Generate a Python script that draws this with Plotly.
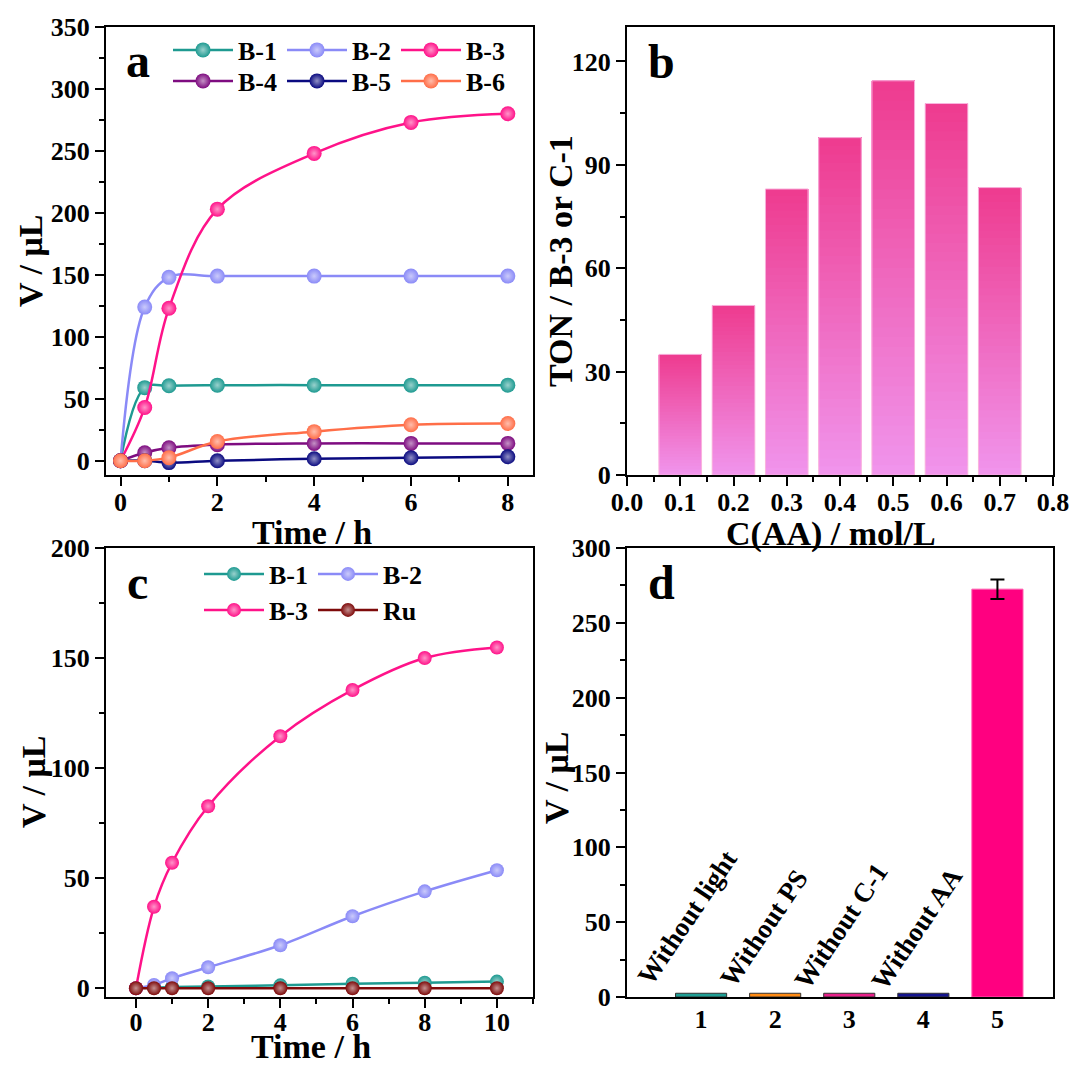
import plotly.graph_objects as go

W, H = 1080, 1073
OFF = 8                      # page body margin of the browser
FW, FH = W - 2 * OFF, H - 2 * OFF
FONT = "Liberation Serif"

# ---------------- data ----------------
# panel a
time_a = [0, 0.5, 1, 2, 4, 6, 8]
a_B1 = [0, 59, 60.5, 61, 61, 61, 61]
a_B2 = [0, 124, 148, 149, 149, 149, 149]
a_B3 = [0, 43, 123, 203, 248, 273, 280]
a_B4 = [0, 6.5, 10.5, 13, 14, 14, 14]
a_B5 = [0, 0, -1.5, 0, 1.6, 2.4, 3.2]
a_B6 = [0, 0, 2.5, 15.5, 23.5, 29, 30]
names_a = ["B-1", "B-2", "B-3", "B-4", "B-5", "B-6"]

# panel b
conc_b = [0.1, 0.2, 0.3, 0.4, 0.5, 0.6, 0.7]
ton_b = [35, 49.2, 83, 97.9, 114.4, 107.8, 83.4]

# panel c
time_c = [0, 0.5, 1, 2, 4, 6, 8, 10]
c_B1 = [0, 0.3, 0.5, 0.8, 1.3, 2.0, 2.5, 3.0]
c_B2 = [0, 1.5, 4.5, 9.5, 19.5, 32.7, 44, 53.6]
c_B3 = [0, 37, 57, 82.7, 114.5, 135.5, 150, 154.8]
c_Ru = [0, 0, 0, 0, 0, 0, 0, 0]
names_c = ["B-1", "B-2", "B-3", "Ru"]

# panel d
cond_d = [1, 2, 3, 4, 5]
vol_d = [2.5, 2.5, 2.5, 2.5, 272.5]
err_d = [6.5]
labels_d = ["Without light", "Without PS", "Without C-1", "Without AA"]

# ---------------- styles ----------------
COL = {"B-1": "#1E9A91", "B-2": "#8A8AF7", "B-3": "#FF1289",
       "B-4": "#7E0C80", "B-5": "#0A0A80", "B-6": "#FF6E48", "Ru": "#7E0A0A"}


def lighten(hexc, f=0.6):
    h = hexc.lstrip("#")
    r, g, b = int(h[0:2], 16), int(h[2:4], 16), int(h[4:6], 16)
    r = int(r + (255 - r) * f); g = int(g + (255 - g) * f); b = int(b + (255 - b) * f)
    return f"rgb({r},{g},{b})"


def px_x(p):
    return (p - OFF) / FW


def px_y(p):
    return 1 - (p - OFF) / FH


TF = dict(family=FONT, size=26, color="black", weight="bold")
TITLEF = dict(family=FONT, size=34, color="black", weight="bold")

fig = go.Figure()

# panel a lines
series_a = [a_B1, a_B2, a_B3, a_B4, a_B5, a_B6]
for i, (nm, ys) in enumerate(zip(names_a, series_a)):
    fig.add_trace(go.Scatter(
        x=time_a, y=ys, name=nm, mode="lines+markers",
        line=dict(color=COL[nm], width=2.5, shape="spline", smoothing=1.0),
        marker=dict(size=15, color=COL[nm], gradient=dict(type="radial", color=lighten(COL[nm], 0.55))),
        xaxis="x", yaxis="y", legend="legend" if i < 3 else "legend2"))

# panel b gradient bars (stacked overlays)
N = 40
top = (238, 58, 142)
bot = (241, 148, 236)
for k in range(N):
    f = k / N
    c = tuple(int(bot[j] + (top[j] - bot[j]) * f) for j in range(3))
    fig.add_trace(go.Bar(
        x=conc_b, y=[v * (1 - f) for v in ton_b], base=[v * f for v in ton_b],
        width=0.08, marker=dict(color=f"rgb{c}", line=dict(width=0)),
        xaxis="x2", yaxis="y2", showlegend=False, hoverinfo="skip"))
fig.add_trace(go.Bar(
    x=conc_b, y=ton_b, width=0.08,
    marker=dict(color="rgba(0,0,0,0)", line=dict(color="#F9B4DE", width=1)),
    xaxis="x2", yaxis="y2", showlegend=False))

# panel c lines
series_c = [c_B1, c_B2, c_B3, c_Ru]
for i, (nm, ys) in enumerate(zip(names_c, series_c)):
    fig.add_trace(go.Scatter(
        x=time_c, y=ys, name=nm, mode="lines+markers",
        line=dict(color=COL[nm], width=2.5, shape="spline", smoothing=1.0),
        marker=dict(size=14, color=COL[nm], gradient=dict(type="radial", color=lighten(COL[nm], 0.55))),
        xaxis="x3", yaxis="y3", legend="legend3" if i < 2 else "legend4"))

# panel d bars
small_cols = ["#1E9E94", "#FF8A12", "#E8208A", "#14148E"]
fig.add_trace(go.Bar(
    x=cond_d[:4], y=vol_d[:4], width=0.69,
    marker=dict(color=small_cols, line=dict(color="#333333", width=1)),
    xaxis="x4", yaxis="y4", showlegend=False))
fig.add_trace(go.Bar(
    x=cond_d[4:], y=vol_d[4:], width=0.69,
    marker=dict(color="#FF0080", line=dict(color="#FF5AAE", width=1)),
    error_y=dict(type="data", array=err_d, color="black", thickness=2, width=7),
    xaxis="x4", yaxis="y4", showlegend=False))


def ax(**kw):
    d = dict(showline=True, linecolor="black", linewidth=2, mirror=True,
             ticks="outside", ticklen=9, tickwidth=2, tickcolor="black",
             tickfont=TF, showgrid=False, zeroline=False, fixedrange=True,
             automargin=False)
    d.update(kw)
    return d


minor = lambda dt: dict(ticks="outside", ticklen=5, tickwidth=2, tickcolor="black", dtick=dt, showgrid=False)

dom_a_x = [px_x(106), px_x(533)]
dom_b_x = [px_x(627), px_x(1053)]
dom_top_y = [px_y(475), px_y(27)]
dom_bot_y = [px_y(997), px_y(548)]

layout = dict(
    template="none",
    width=FW, height=FH, margin=dict(l=0, r=0, t=0, b=0, autoexpand=False),
    paper_bgcolor="white", plot_bgcolor="white", barmode="overlay",
    font=dict(family=FONT, color="black"),
    xaxis=ax(domain=dom_a_x, anchor="y", range=[-0.3, 8.52], tick0=0, dtick=2, minor=minor(1),
             ticklabelstandoff=-6),
    yaxis=ax(domain=dom_top_y, anchor="x", range=[-11.5, 350], tick0=0, dtick=50, minor=minor(25)),
    xaxis2=ax(domain=dom_b_x, anchor="y2", range=[0, 0.8], tick0=0, dtick=0.1, tickformat=".1f",
              minor=minor(0.05), ticklabelstandoff=-6),
    yaxis2=ax(domain=dom_top_y, anchor="x2", range=[0, 130], tick0=0, dtick=30, minor=minor(15)),
    xaxis3=ax(domain=dom_a_x, anchor="y3", range=[-0.83, 11.0], tick0=0, dtick=2, minor=minor(1),
              ticklabelstandoff=-8),
    yaxis3=ax(domain=dom_bot_y, anchor="x3", range=[-4, 200], tick0=0, dtick=50, minor=minor(25)),
    xaxis4=ax(domain=dom_b_x, anchor="y4", range=[0, 5.75], tickvals=cond_d, ticks="",
              ticklabelstandoff=-2),
    yaxis4=ax(domain=dom_bot_y, anchor="x4", range=[0, 300], tick0=0, dtick=50, minor=minor(25)),
)

LF = dict(family=FONT, size=26, color="black", weight="bold")


def leg(xp, yp):
    return dict(orientation="h", x=px_x(xp), y=px_y(yp), xanchor="left", yanchor="middle",
                bgcolor="rgba(0,0,0,0)", font=LF, itemwidth=60, entrywidth=39,
                entrywidthmode="pixels", tracegroupgap=0, itemclick=False)


layout["legend"] = leg(168, 50)
layout["legend2"] = leg(168, 81)
layout["legend3"] = leg(199, 574)
layout["legend4"] = leg(199, 610)

annos = []
# panel letters
for txt, xp, yp in [("a", 138, 60), ("b", 661, 61), ("c", 137, 582), ("d", 661, 582)]:
    annos.append(dict(text=txt, x=px_x(xp), y=px_y(yp), xref="paper", yref="paper",
                      showarrow=False, font=dict(family=FONT, size=48, color="black", weight="bold"),
                      xanchor="center", yanchor="middle"))
# axis titles
for txt, xp, yp, ang in [("V / μL", 31, 261, -90), ("Time / h", 312, 532, 0),
                         ("TON / B-3 or C-1", 561, 261, -90), ("C(AA) / mol/L", 831, 534, 0),
                         ("V / μL", 33, 782, -90), ("Time / h", 311, 1046, 0),
                         ("V / μL", 557, 778, -90)]:
    annos.append(dict(text=txt, x=px_x(xp), y=px_y(yp), xref="paper", yref="paper",
                      showarrow=False, font=TITLEF, textangle=ang,
                      xanchor="center", yanchor="middle"))
# panel d rotated condition labels
lab_x = [0.81, 1.85, 2.89, 3.91]
lab_y = [52.8, 46.1, 47.4, 45.4]
for txt, xv, yv in zip(labels_d, lab_x, lab_y):
    annos.append(dict(text=txt, x=xv, y=yv, xref="x4", yref="y4", showarrow=False,
                      textangle=-56, font=dict(family=FONT, size=27, color="black", weight="bold"),
                      xanchor="center", yanchor="middle"))
layout["annotations"] = annos

fig.update_layout(**layout)
fig.write_html("out.html")
